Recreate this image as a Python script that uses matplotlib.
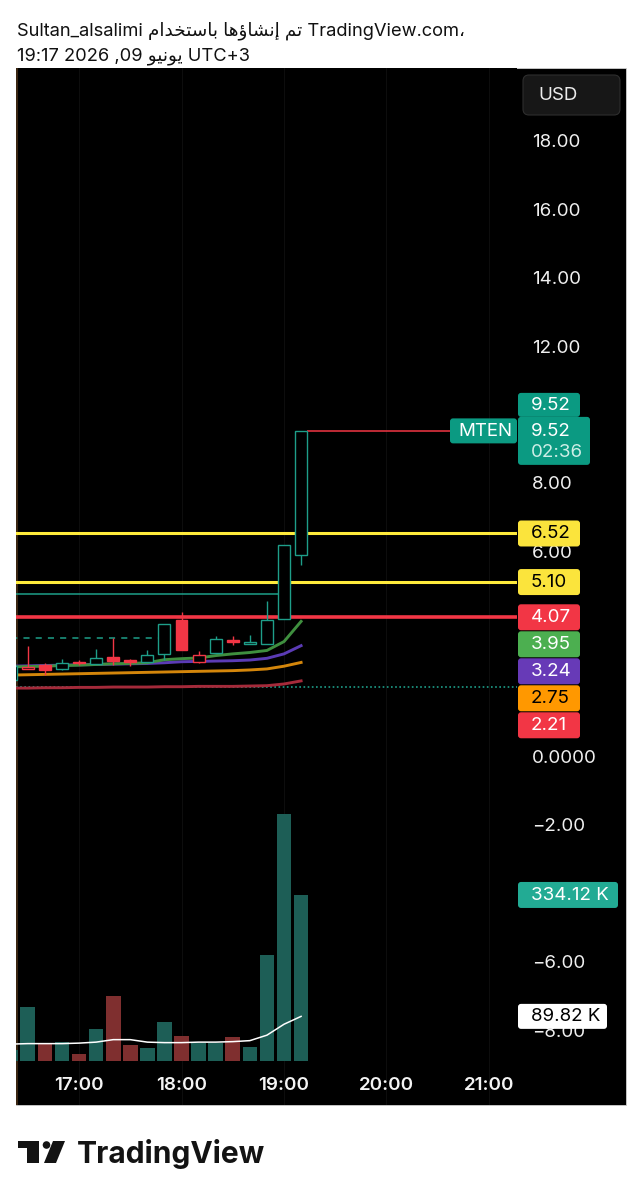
import numpy as np
import matplotlib.pyplot as plt
from matplotlib.patches import Rectangle, FancyBboxPatch, Circle, Polygon

plt.rcParams['font.family'] = ['Inter', 'DejaVu Sans']

# 10-minute bars, time = minutes after 16:00
t = [20, 30, 40, 50, 60, 70, 80, 90, 100, 110, 120, 130, 140, 150, 160, 170, 180, 190]
o = [2.24, 2.57, 2.68, 2.55, 2.77, 2.71, 2.90, 2.82, 2.77, 3.00, 4.00, 2.77, 3.04, 3.41, 3.28, 3.29, 4.02, 5.89]
h = [2.68, 3.22, 2.72, 2.85, 2.82, 3.14, 3.46, 2.85, 3.12, 3.88, 4.22, 3.09, 3.51, 3.51, 3.56, 4.55, 6.19, 9.52]
l = [2.22, 2.55, 2.39, 2.53, 2.68, 2.71, 2.68, 2.65, 2.77, 2.82, 3.10, 2.73, 3.04, 3.26, 3.28, 3.29, 4.02, 5.60]
c = [2.65, 2.62, 2.54, 2.73, 2.72, 2.87, 2.80, 2.75, 2.97, 3.88, 3.10, 2.97, 3.43, 3.34, 3.35, 4.00, 6.19, 9.52]
vol = [22, 109, 34, 39, 14, 64, 131, 32, 26, 79, 50, 37, 37, 48, 28, 213, 497, 334.12]  # K
vol_ma = [34, 35, 35, 35, 36, 38, 43, 43, 38, 37, 37, 38, 38, 39, 41, 52, 74, 89.82]

ma_green = [2.62, 2.63, 2.64, 2.66, 2.67, 2.69, 2.71, 2.72, 2.74, 2.83, 2.86, 2.88, 2.95, 3.00, 3.04, 3.10, 3.36, 3.95]
ma_purple = [2.64, 2.65, 2.66, 2.67, 2.68, 2.69, 2.70, 2.71, 2.72, 2.74, 2.77, 2.78, 2.79, 2.80, 2.82, 2.87, 3.00, 3.24]
ma_orange = [2.38, 2.39, 2.40, 2.41, 2.42, 2.43, 2.44, 2.45, 2.46, 2.47, 2.48, 2.49, 2.50, 2.51, 2.53, 2.56, 2.64, 2.75]
ma_red = [2.00, 2.00, 2.01, 2.01, 2.02, 2.02, 2.03, 2.03, 2.03, 2.04, 2.04, 2.05, 2.05, 2.05, 2.06, 2.07, 2.12, 2.21]

yellow_levels = [6.52, 5.10]
red_level = 4.07
last_price = 9.52
symbol = 'MTEN'
countdown = '02:36'
vol_last_label = '334.12 K'
vol_ma_label = '89.82 K'
# drawn lines: (price, start time, end time)
teal_line = (4.75, 0, 179.4)
teal_dash = (3.47, 0, 106.2)
teal_dots = 2.02

price_ticks = [18, 16, 14, 12, 8, 6, 0, -2, -6, -8]
time_ticks = [60, 120, 180, 240, 300]
time_labels = ['17:00', '18:00', '19:00', '20:00', '21:00']

UP = '#1e9e89'
DN = '#f23645'
W, H = 642, 1200
FS = 13.5

fig = plt.figure(figsize=(W / 100, H / 100), dpi=100)
fig.patch.set_facecolor('white')
# black panel behind chart + price scale
fig.patches.append(Rectangle((16 / W, 1 - 1105 / H), 610 / W, 1037 / H, transform=fig.transFigure,
                             facecolor='black', edgecolor='#d0d0d0', lw=0.6, zorder=-1))

ax = fig.add_axes([16 / W, 1 - 1105 / H, (517 - 16) / W, (1105 - 68) / H])
ax.set_facecolor('black')
ax.set_xlim(23.1, 316.4)
ax.set_ylim(-10.19, 20.13)
for s in ax.spines.values():
    s.set_visible(False)
ax.axvline(23.4, color='#3a2612', lw=1.5)

# volume pane on its own scale
ax2 = ax.twinx()
ax2.set_ylim(-88.5, 1998)
ax2.set_yticks([])
for s in ax2.spines.values():
    s.set_visible(False)

for tt in time_ticks:
    ax.axvline(tt, color='#0d0d0d', lw=0.8, zorder=0)

ax.yaxis.tick_right()
ax.set_yticks(price_ticks)
ax.set_yticklabels(['0.0000' if v == 0 else ('%.2f' % v).replace('-', '\u2212') for v in price_ticks])
ax.tick_params(axis='y', length=0, pad=10.5, labelsize=FS, labelcolor='#f0f0f0')
ax.set_xticks([])
for tt, lab in zip(time_ticks, time_labels):
    ax.text(tt, 0.0185, lab, transform=ax.get_xaxis_transform(), ha='center', va='center',
            color='#f4f4f4', fontsize=FS, fontweight='semibold')

# price levels / drawings
for v in yellow_levels:
    ax.axhline(v, color='#ffeb3b', lw=2.2, zorder=2)
ax.axhline(red_level, color=DN, lw=2.6, zorder=2)
ax.hlines(teal_line[0], teal_line[1], teal_line[2], color=UP, lw=1.1, zorder=2)
ax.hlines(teal_dash[0], teal_dash[1], teal_dash[2], color=UP, lw=1.1, linestyles=(0, (4, 4)), zorder=2)
ax.axhline(teal_dots, color=UP, lw=1.2, ls=(0, (1, 1.5)), zorder=2)
ax.hlines(last_price, t[-1] + 3.5, 316.4, color=DN, lw=1.1, zorder=2)

# moving averages
ax.plot(t, ma_red, color='#a52a3a', lw=2.1, zorder=3)
ax.plot(t, ma_orange, color='#d4860b', lw=2.1, zorder=3)
ax.plot(t, ma_purple, color='#5b3bb5', lw=2.1, zorder=3)
ax.plot(t, ma_green, color='#3f8f3f', lw=2.1, zorder=3)

# candles (hollow style)
bw = 7.0
for i in range(len(t)):
    prev = c[i - 1] if i > 0 else o[i]
    col = UP if c[i] >= prev else DN
    top, bot = max(o[i], c[i]), min(o[i], c[i])
    ax.vlines(t[i], top, h[i], color=col, lw=1.0, zorder=4)
    ax.vlines(t[i], l[i], bot, color=col, lw=1.0, zorder=4)
    filled = c[i] < o[i]
    ax.add_patch(Rectangle((t[i] - bw / 2, bot), bw, max(top - bot, 0.03),
                           facecolor=col if filled else 'black', edgecolor=col, lw=1.0, zorder=5))

vcols = ['#1d5e56' if c[i] >= o[i] else '#7f2f2f' for i in range(len(t))]
ax2.bar(t, vol, width=8.6, color=vcols, zorder=2)
ax2.plot(t, vol_ma, color='white', lw=1.1, zorder=3)

# overlay in pixel coordinates
ov = fig.add_axes([0, 0, 1, 1], zorder=10)
ov.set_xlim(0, W)
ov.set_ylim(H, 0)
ov.axis('off')
ov.patch.set_visible(False)


def py(axis, v):
    return H - axis.transData.transform((0, v))[1]


def tag(y, text, fc, tc, x0=518, w=62, hh=26, tx=531):
    ov.add_patch(FancyBboxPatch((x0, y - hh / 2), w, hh, boxstyle='round,pad=0,rounding_size=3',
                                facecolor=fc, edgecolor='none'))
    ov.text(tx, y + 0.5, text, ha='left', va='center', color=tc, fontsize=FS)


# last price tags
yl = py(ax, last_price)
ov.add_patch(FancyBboxPatch((518, yl - 14), 72, 48, boxstyle='round,pad=0,rounding_size=3',
                            facecolor='#0b9a82', edgecolor='none'))
ov.text(531, yl + 0.5, '%.2f' % last_price, ha='left', va='center', color='white', fontsize=FS)
ov.text(531, yl + 22, countdown, ha='left', va='center', color='#cdeee6', fontsize=FS)
tag(yl - 26, '%.2f' % last_price, '#0b9a82', 'white', hh=24)
tag(yl, symbol, '#0b9a82', 'white', x0=450, w=67, hh=25, tx=458)

for v in yellow_levels:
    tag(py(ax, v), '%.2f' % v, '#fbe43c', 'black')

stack = [(red_level, DN, 'white'), (ma_green[-1], '#4caf50', 'white'), (ma_purple[-1], '#673ab7', 'white'),
         (ma_orange[-1], '#ff9800', 'black'), (ma_red[-1], DN, 'white')]
prev_y = -100
for v, fc, tc in stack:
    y = max(py(ax, v), prev_y + 27)
    tag(y, '%.2f' % v, fc, tc)
    prev_y = y

tag(py(ax2, vol[-1]), vol_last_label, '#22ab94', 'white', w=100)
ov.add_patch(FancyBboxPatch((518, py(ax2, vol_ma[-1]) - 12.5), 89, 25, boxstyle='round,pad=0,rounding_size=3',
                            facecolor='white', edgecolor='none'))
ov.text(531, py(ax2, vol_ma[-1]) + 0.5, vol_ma_label, ha='left', va='center', color='black', fontsize=FS)

# currency box
ov.add_patch(FancyBboxPatch((523, 75), 97, 40, boxstyle='round,pad=0,rounding_size=6',
                            facecolor='#171717', edgecolor='#2e2e2e', lw=0.8))
ov.text(538, 96, 'USD', ha='left', va='center', color='#ececec', fontsize=FS)

# header (Arabic words given in visual order, presentation forms)
w_tam = '\uFEE2\uFE97'
w_insha = '\uFE8E\uFEEB\uFE85\uFE8E\uFEB8\uFEE7\uFE87'
w_bist = '\uFEE1\uFE8D\uFEAA\uFEA8\uFE98\uFEB3\uFE8E\uFE91'
w_yunyu = '\uFEEE\uFEF4\uFEE7\uFEEE\uFEF3'
ov.text(17, 35.5, 'Sultan_alsalimi ' + w_bist + ' ' + w_insha + ' ' + w_tam + ' TradingView.com\u060C',
        ha='left', va='baseline', color='#111111', fontsize=13.2)
ov.text(17, 60.5, '19:17 2026 ,09 ' + w_yunyu + ' UTC+3', ha='left', va='baseline',
        color='#111111', fontsize=13.2)

# logo
ov.add_patch(Polygon([(18, 1141), (39, 1141), (39, 1163), (27, 1163), (27, 1148), (18, 1148)],
                     closed=True, facecolor='#131313', edgecolor='none'))
ov.add_patch(Circle((46.5, 1145), 3.8, facecolor='#131313', edgecolor='none'))
ov.add_patch(Polygon([(53, 1141), (65, 1141), (56, 1163), (44, 1163)], closed=True,
                     facecolor='#131313', edgecolor='none'))
ov.text(77, 1163, 'TradingView', ha='left', va='baseline', color='#131313', fontsize=21.6, fontweight='bold')

fig.savefig('out.png', dpi=100)
